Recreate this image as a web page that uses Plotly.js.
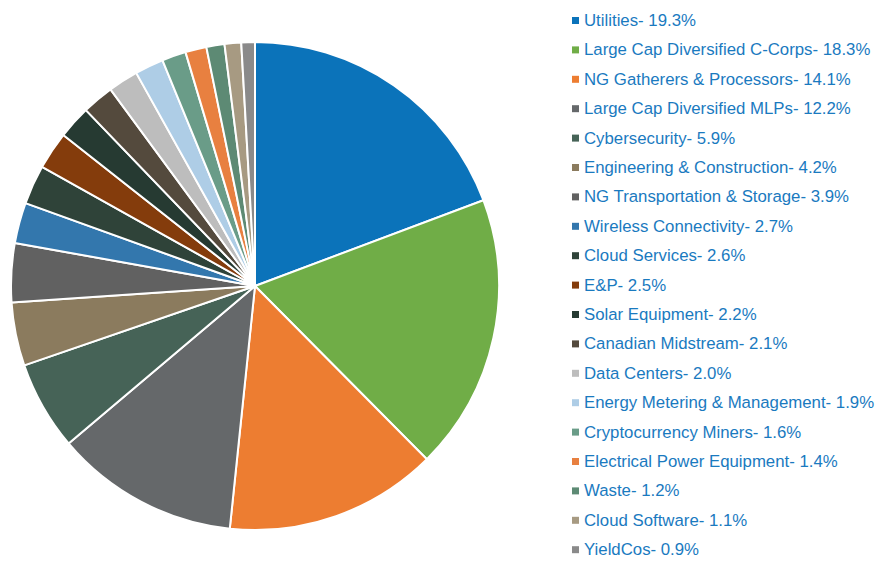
<!DOCTYPE html>
<html>
<head>
<meta charset="utf-8">
<script src="https://cdn.plot.ly/plotly-3.0.1.min.js"></script>
<style>html,body{margin:0;padding:0;background:#fff}#chart{width:875px;height:561px}</style>
</head>
<body>
<div id="chart"></div>
<script>
const categories = ["Utilities","Large Cap Diversified C-Corps","NG Gatherers & Processors","Large Cap Diversified MLPs","Cybersecurity","Engineering & Construction","NG Transportation & Storage","Wireless Connectivity","Cloud Services","E&P","Solar Equipment","Canadian Midstream","Data Centers","Energy Metering & Management","Cryptocurrency Miners","Electrical Power Equipment","Waste","Cloud Software","YieldCos"];
const weights = [19.3,18.3,14.1,12.2,5.9,4.2,3.9,2.7,2.6,2.5,2.2,2.1,2.0,1.9,1.6,1.4,1.2,1.1,0.9];
const colors = ["#0b73ba","#70ad47","#ed7d31","#65686a","#466357","#8b7b5e","#616161","#3377ad","#2f4339","#843c0c","#263a32","#544a3d","#bdbdbd","#aecde6","#6a9c88","#e88040","#5d8a74","#a79a82","#8a8a8a"];

const W = 875, H = 561;
const annotations = [], shapes = [];
const top0 = 20.5, step = 29.4;
categories.forEach((c, i) => {
  const yp = 1 - (top0 + i * step) / H;
  annotations.push({
    xref: "paper", yref: "paper", x: 583 / W, y: yp,
    xanchor: "left", yanchor: "middle", showarrow: false, borderpad: 0,
    text: c + "- " + weights[i].toFixed(1) + "%",
    font: {family: "Liberation Sans, Arial, sans-serif", size: 16.8, color: "#1a7abf"}
  });
  shapes.push({
    type: "rect", xref: "paper", yref: "paper",
    x0: 572 / W, x1: 579 / W, y0: yp - 3.5 / H, y1: yp + 3.5 / H,
    fillcolor: colors[i], line: {width: 0}
  });
});

const trace = {
  type: "pie",
  labels: categories,
  values: weights,
  sort: false,
  direction: "clockwise",
  rotation: 0,
  textinfo: "none",
  hoverinfo: "label+percent",
  marker: {colors: colors, line: {color: "#ffffff", width: 2}},
  domain: {x: [11 / W, 499 / W], y: [(H - 530) / H, (H - 42) / H]},
  showlegend: false
};

Plotly.newPlot("chart", [trace], {
  width: W, height: H,
  margin: {l: 0, r: 0, t: 0, b: 0},
  paper_bgcolor: "#ffffff",
  showlegend: false,
  annotations: annotations,
  shapes: shapes
}, {displayModeBar: false, staticPlot: true});
</script>
</body>
</html>
